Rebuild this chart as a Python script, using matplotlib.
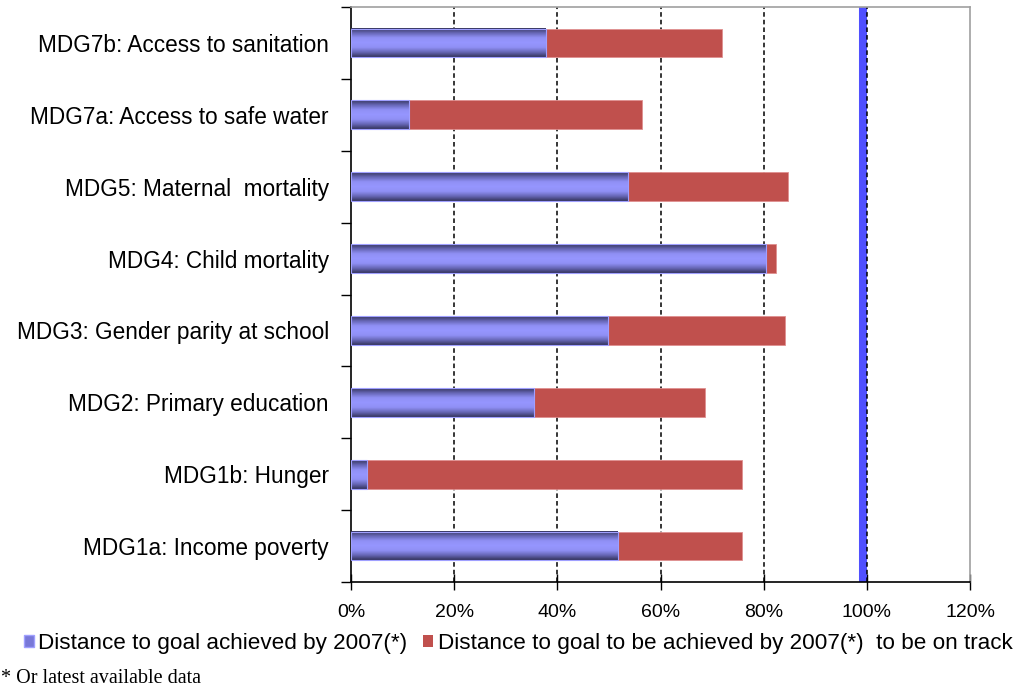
import numpy as np
import matplotlib.pyplot as plt
from matplotlib.colors import LinearSegmentedColormap
from matplotlib.patches import Patch

plt.rcParams['font.family'] = ['Liberation Sans', 'DejaVu Sans']

# ── data (bottom to top) ─────────────────────────────────────────────────────
goals = ["MDG1a: Income poverty", "MDG1b: Hunger", "MDG2: Primary education",
         "MDG3: Gender parity at school", "MDG4: Child mortality",
         "MDG5: Maternal  mortality", "MDG7a: Access to safe water",
         "MDG7b: Access to sanitation"]
achieved = [51.7, 3.1, 35.4, 49.9, 80.5, 53.6, 11.2, 37.7]
on_track = [75.7, 75.7, 68.7, 84.2, 82.4, 84.8, 56.5, 72.0]
target_line = 99.3
xticks = [0, 20, 40, 60, 80, 100, 120]

remaining = [t - a for t, a in zip(on_track, achieved)]

fig = plt.figure(figsize=(10.16, 6.89), dpi=100)
ax = fig.add_axes([0.3455, 0.1553, 0.6093, 0.8345])

n = len(goals)
ys = np.arange(n)
h = 0.40

# cylinder-like shading for the achieved bars
shade = LinearSegmentedColormap.from_list(
    "cyl", ["#35355e", "#6868b8", "#9090f5", "#9696ff", "#9090f5", "#6868b8", "#35355e"])
grad = np.linspace(0, 1, 64).reshape(-1, 1)

for y, a, r in zip(ys, achieved, remaining):
    ax.imshow(grad, cmap=shade, aspect="auto", origin="lower",
              extent=[0, a, y - h / 2, y + h / 2], zorder=3, interpolation="bilinear")
    ax.barh(y, a, height=h, left=0, facecolor="none", edgecolor="#a0a0ff",
            linewidth=0.8, zorder=4)
    ax.barh(y, r, height=h, left=a, color="#c0504d", edgecolor="#e09090",
            linewidth=0.6, zorder=3)

ax.axvline(target_line, color="#5050ff", linewidth=5.8, zorder=2)

ax.set_xlim(0, 120)
ax.set_ylim(-0.5, n - 0.5)

# dashed vertical grid
for x in xticks[1:-1]:
    ax.axvline(x, color="black", linestyle=(0, (3, 2)), linewidth=1.1, zorder=2.5)

ax.set_xticks(xticks)
ax.set_xticklabels([f"{x}%" for x in xticks], fontsize=14)
ax.tick_params(axis="x", direction="inout", length=12, width=1, pad=10)

# category separators as ticks, labels at bar centres
ax.set_yticks(np.arange(-0.5, n, 1.0))
ax.set_yticklabels([])
ax.tick_params(axis="y", which="major", direction="out", length=7, width=1)
ax.set_yticks(ys, minor=True)
ax.set_yticklabels(goals, minor=True, fontsize=16.3)
ax.tick_params(axis="y", which="minor", length=0, pad=16)

ax.spines["left"].set_color("black")
ax.spines["bottom"].set_color("black")
ax.spines["left"].set_linewidth(1.2)
ax.spines["bottom"].set_linewidth(1.2)
for s in ("top", "right"):
    ax.spines[s].set_color("#a0a0a0")
    ax.spines[s].set_linewidth(1.2)

handles = [Patch(facecolor="#7878d8", edgecolor="#a0a0ff"),
           Patch(facecolor="#c0504d")]
labels = ["Distance to goal achieved by 2007(*)",
          "Distance to goal to be achieved by 2007(*)  to be on track"]
fig.legend(handles, labels, loc="center", bbox_to_anchor=(0.51, 0.066), ncol=2,
           frameon=False, fontsize=16.2, handlelength=0.45, handleheight=0.45,
           handletextpad=0.2, columnspacing=0.7, borderaxespad=0, borderpad=0)

fig.text(0.001, 0.009, "* Or latest available data", family="Liberation Serif",
         fontsize=14.5)

plt.savefig("out.png", dpi=100)
